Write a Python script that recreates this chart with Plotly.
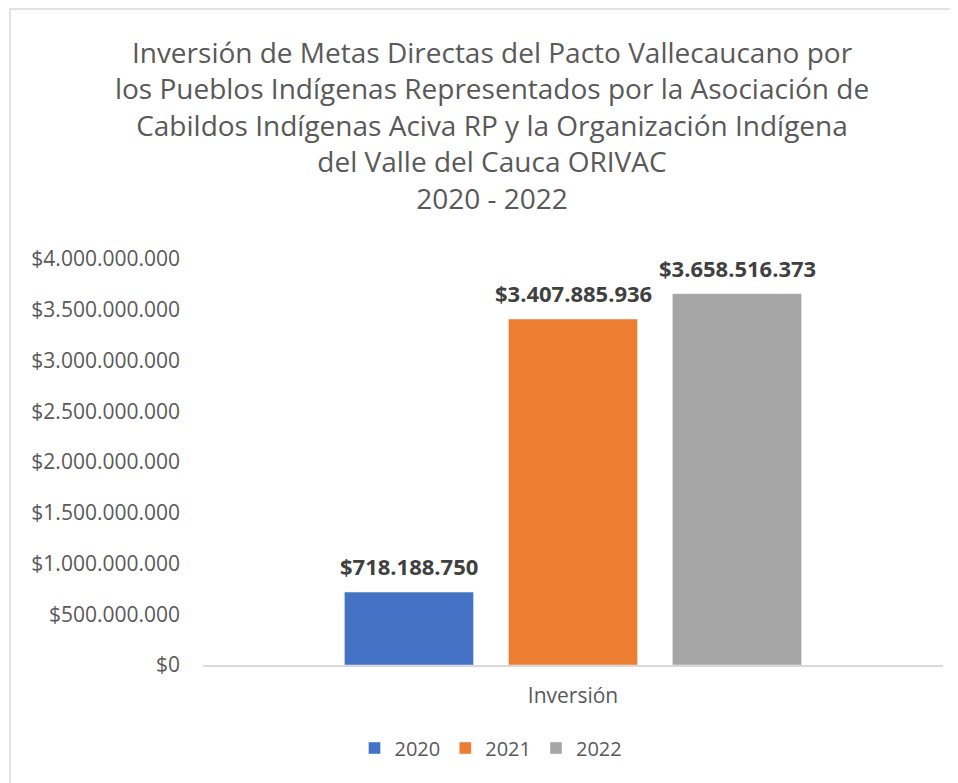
import plotly.graph_objects as go

categories = ["Inversión"]
years = ["2020", "2021", "2022"]
values_2020 = [718188750]
values_2021 = [3407885936]
values_2022 = [3658516373]
colors = ["#4472C4", "#ED7D31", "#A5A5A5"]
y_ticks = [0, 500000000, 1000000000, 1500000000, 2000000000, 2500000000, 3000000000, 3500000000, 4000000000]

def fmt(v):
    return "$" + f"{v:,.0f}".replace(",", ".")

series = [values_2020, values_2021, values_2022]

W, H = 950, 775
L, R, T, B = 195, 15, 251, 118
pw, ph = W - L - R, H - T - B
BARGAP, GROUPGAP = 0.335, 0.213
slot = pw * (1 - BARGAP) / len(series)

fig = go.Figure()
annotations = []
for i, (name, vals, col) in enumerate(zip(years, series, colors)):
    fig.add_trace(go.Bar(x=categories, y=vals, name=name, marker_color=col))
    for c, v in zip(categories, vals):
        annotations.append(dict(
            x=c, y=v, xref="x", yref="y", text="<b>" + fmt(v) + "</b>",
            showarrow=False, xanchor="center", yanchor="middle",
            xshift=(i - (len(series) - 1) / 2) * slot, yshift=26,
            font=dict(family="Open Sans", size=22, color="#404040"),
        ))

title = ("Inversión de Metas Directas del Pacto Vallecaucano por<br>"
         "los Pueblos Indígenas Representados por la Asociación de<br>"
         "Cabildos Indígenas Aciva RP y la Organización Indígena<br>"
         "del Valle del Cauca ORIVAC<br>2020 - 2022")

fig.update_layout(
    width=W, height=H,
    margin=dict(l=L, r=R, t=T, b=B),
    paper_bgcolor="white", plot_bgcolor="white",
    font=dict(family="Open Sans", color="#595959"),
    title=dict(text=title, x=(492 - 8) / W, xanchor="center", y=1 - 55 / H, yanchor="top",
               font=dict(family="Open Sans", size=28, color="#595959")),
    barmode="group", bargap=BARGAP, bargroupgap=GROUPGAP,
    showlegend=True,
    legend=dict(orientation="h", x=(483 - L) / pw, xanchor="center",
                y=-(740 - 657) / ph, yanchor="middle",
                font=dict(family="Open Sans", size=20, color="#595959"),
                traceorder="normal"),
    xaxis=dict(showline=True, linecolor="#D9D9D9", linewidth=1.5, ticks="",
               tickfont=dict(family="Open Sans", size=21, color="#595959"),
               ticklabelstandoff=11),
    yaxis=dict(range=[0, 4000000000], tickvals=y_ticks,
               ticktext=[fmt(v) for v in y_ticks], showgrid=False, zeroline=False,
               tickfont=dict(family="Open Sans", size=21, color="#595959"),
               ticklabelstandoff=22),
    annotations=annotations,
    shapes=[dict(type="rect", xref="paper", yref="paper",
                 x0=(2 - L) / pw, x1=(W + 20 - L) / pw,
                 y0=-(H + 20 - (H - B)) / ph, y1=1 + (T - 1) / ph,
                 line=dict(color="#D9D9D9", width=1.5), layer="below")],
)

fig.write_html("out.html")
